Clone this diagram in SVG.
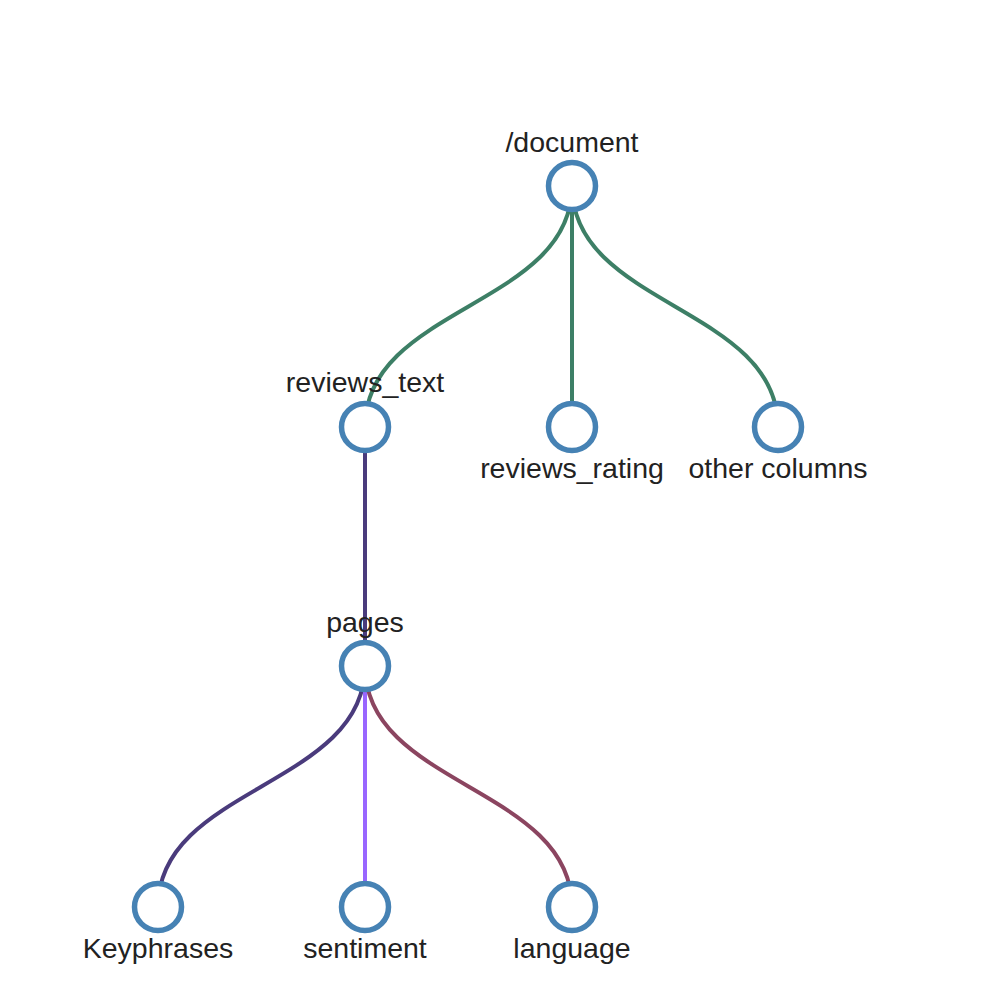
<svg xmlns="http://www.w3.org/2000/svg" width="1000" height="1000" viewBox="0 0 1000 1000">
<style>
.node circle{fill:#fff;stroke:#4682b4;stroke-width:5.5}
.node text{font-family:"Liberation Sans",Arial,sans-serif;font-size:28.5px;fill:#222;text-anchor:middle}
.links path{fill:none;stroke-width:4}
</style>
<rect width="1000" height="1000" fill="#fff"/>
<g class="links">
<path d="M572,186 C572,306.5 365,306.5 365,427" stroke="#3d7f66"/>
<path d="M572,186 L572,427" stroke="#3d7f66"/>
<path d="M572,186 C572,306.5 778,306.5 778,427" stroke="#3d7f66"/>
<path d="M365,427 L365,666" stroke="#4a3b7c"/>
<path d="M365,666 C365,786.5 158,786.5 158,907" stroke="#4a3b7c"/>
<path d="M365,666 L365,907" stroke="#9966ff"/>
<path d="M365,666 C365,786.5 572,786.5 572,907" stroke="#8b4560"/>
</g>
<g id="n-document" class="node"><circle cx="572" cy="186" r="23.5"/><text x="572" y="152">/document</text></g>
<g id="n-reviews_text" class="node"><circle cx="365" cy="427" r="23.5"/><text x="365" y="392">reviews_text</text></g>
<g id="n-reviews_rating" class="node"><circle cx="572" cy="427" r="23.5"/><text x="572" y="478">reviews_rating</text></g>
<g id="n-other" class="node"><circle cx="778" cy="427" r="23.5"/><text x="778" y="478">other columns</text></g>
<g id="n-pages" class="node"><circle cx="365" cy="666" r="23.5"/><text x="365" y="632">pages</text></g>
<g id="n-keyphrases" class="node"><circle cx="158" cy="907" r="23.5"/><text x="158" y="958">Keyphrases</text></g>
<g id="n-sentiment" class="node"><circle cx="365" cy="907" r="23.5"/><text x="365" y="958">sentiment</text></g>
<g id="n-language" class="node"><circle cx="572" cy="907" r="23.5"/><text x="572" y="958">language</text></g>
</svg>
